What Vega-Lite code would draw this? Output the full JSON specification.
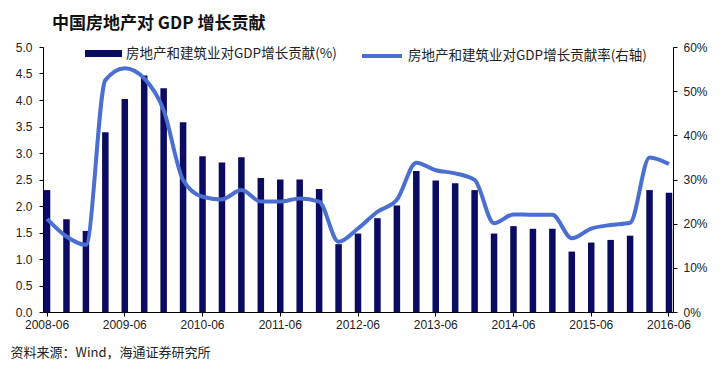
{
  "$schema": "https://vega.github.io/schema/vega-lite/v6.json",
  "width": 630,
  "height": 265,
  "autosize": {"type": "none"},
  "padding": {"left": 43, "top": 47, "right": 49, "bottom": 53},
  "background": "white",
  "title": {
    "text": "中国房地产对 GDP 增长贡献",
    "anchor": "start",
    "frame": "group",
    "font": "Noto Sans CJK SC",
    "fontSize": 17,
    "fontWeight": "bold",
    "color": "#111",
    "dx": 9,
    "offset": 1
  },
  "config": {
    "view": {"stroke": null},
    "axis": {
      "labelFont": "Liberation Sans",
      "labelFontSize": 12,
      "labelColor": "#222",
      "domainColor": "#000",
      "tickColor": "#000",
      "grid": false
    }
  },
  "data": {
    "values": [
      {"date": "2008-06", "contrib": 2.30, "rate": 0.211},
      {"date": "2008-09", "contrib": 1.75, "rate": 0.171},
      {"date": "2008-12", "contrib": 1.53, "rate": 0.152},
      {"date": "2009-03", "contrib": 3.39, "rate": 0.525},
      {"date": "2009-06", "contrib": 4.02, "rate": 0.552},
      {"date": "2009-09", "contrib": 4.46, "rate": 0.529},
      {"date": "2009-12", "contrib": 4.22, "rate": 0.457},
      {"date": "2010-03", "contrib": 3.58, "rate": 0.299},
      {"date": "2010-06", "contrib": 2.94, "rate": 0.261},
      {"date": "2010-09", "contrib": 2.82, "rate": 0.255},
      {"date": "2010-12", "contrib": 2.92, "rate": 0.276},
      {"date": "2011-03", "contrib": 2.53, "rate": 0.250},
      {"date": "2011-06", "contrib": 2.50, "rate": 0.250},
      {"date": "2011-09", "contrib": 2.50, "rate": 0.257},
      {"date": "2011-12", "contrib": 2.32, "rate": 0.250},
      {"date": "2012-03", "contrib": 1.28, "rate": 0.159},
      {"date": "2012-06", "contrib": 1.48, "rate": 0.189},
      {"date": "2012-09", "contrib": 1.77, "rate": 0.227},
      {"date": "2012-12", "contrib": 2.01, "rate": 0.254},
      {"date": "2013-03", "contrib": 2.66, "rate": 0.338},
      {"date": "2013-06", "contrib": 2.48, "rate": 0.321},
      {"date": "2013-09", "contrib": 2.43, "rate": 0.314},
      {"date": "2013-12", "contrib": 2.30, "rate": 0.299},
      {"date": "2014-03", "contrib": 1.48, "rate": 0.201},
      {"date": "2014-06", "contrib": 1.62, "rate": 0.221},
      {"date": "2014-09", "contrib": 1.57, "rate": 0.220},
      {"date": "2014-12", "contrib": 1.57, "rate": 0.220},
      {"date": "2015-03", "contrib": 1.14, "rate": 0.167},
      {"date": "2015-06", "contrib": 1.31, "rate": 0.189},
      {"date": "2015-09", "contrib": 1.36, "rate": 0.197},
      {"date": "2015-12", "contrib": 1.44, "rate": 0.202},
      {"date": "2016-03", "contrib": 2.30, "rate": 0.350},
      {"date": "2016-06", "contrib": 2.25, "rate": 0.335}
    ]
  },
  "encoding": {
    "x": {
      "field": "date",
      "type": "ordinal",
      "sort": null,
      "scale": {"paddingInner": 0.665, "paddingOuter": 0.04},
      "axis": {
        "values": ["2008-06", "2009-06", "2010-06", "2011-06", "2012-06", "2013-06", "2014-06", "2015-06", "2016-06"],
        "labelAngle": 0,
        "tickSize": 4,
        "labelPadding": 3,
        "title": "资料来源：Wind，海通证券研究所",
        "titleFont": "Noto Sans CJK SC",
        "titleFontSize": 13,
        "titleFontWeight": "normal",
        "titleColor": "#222",
        "titleAnchor": "start",
        "titleAlign": "left",
        "titleBaseline": "middle",
        "titleX": -33,
        "titleY": 40
      }
    }
  },
  "layer": [
    {
      "mark": {"type": "bar"},
      "encoding": {
        "y": {
          "field": "contrib",
          "type": "quantitative",
          "scale": {"domain": [0, 5]},
          "axis": {
            "title": null,
            "values": [0, 0.5, 1, 1.5, 2, 2.5, 3, 3.5, 4, 4.5, 5],
            "format": ".1f",
            "tickSize": 4,
            "labelPadding": 7
          }
        },
        "color": {
          "datum": "房地产和建筑业对GDP增长贡献(%)",
          "scale": {"range": ["#0b0b62"]},
          "legend": {
            "orient": "none",
            "legendX": 42,
            "legendY": -12,
            "title": null,
            "padding": 0,
            "symbolType": "M-1,-0.19H1V0.19H-1Z",
            "symbolSize": 1369,
            "symbolStrokeWidth": 0,
            "labelFont": "Noto Sans CJK SC",
            "labelFontSize": 13.5,
            "labelColor": "#222",
            "labelOffset": 4,
            "labelLimit": 400
          }
        }
      }
    },
    {
      "mark": {"type": "line", "interpolate": "monotone", "strokeWidth": 4},
      "encoding": {
        "y": {
          "field": "rate",
          "type": "quantitative",
          "scale": {"domain": [0, 0.6]},
          "axis": {
            "title": null,
            "orient": "right",
            "values": [0, 0.1, 0.2, 0.3, 0.4, 0.5, 0.6],
            "format": ".0%",
            "tickSize": 4,
            "labelPadding": 6
          }
        },
        "stroke": {
          "datum": "房地产和建筑业对GDP增长贡献率(右轴)",
          "scale": {"range": ["#4a6fd0"]},
          "legend": {
            "orient": "none",
            "legendX": 317,
            "legendY": -13,
            "title": null,
            "padding": 0,
            "symbolType": "stroke",
            "symbolSize": 1600,
            "symbolStrokeWidth": 4,
            "labelFont": "Noto Sans CJK SC",
            "labelFontSize": 13.5,
            "labelColor": "#222",
            "labelOffset": 4,
            "labelLimit": 400
          }
        }
      }
    }
  ],
  "resolve": {"scale": {"y": "independent", "color": "independent", "stroke": "independent"}}
}
